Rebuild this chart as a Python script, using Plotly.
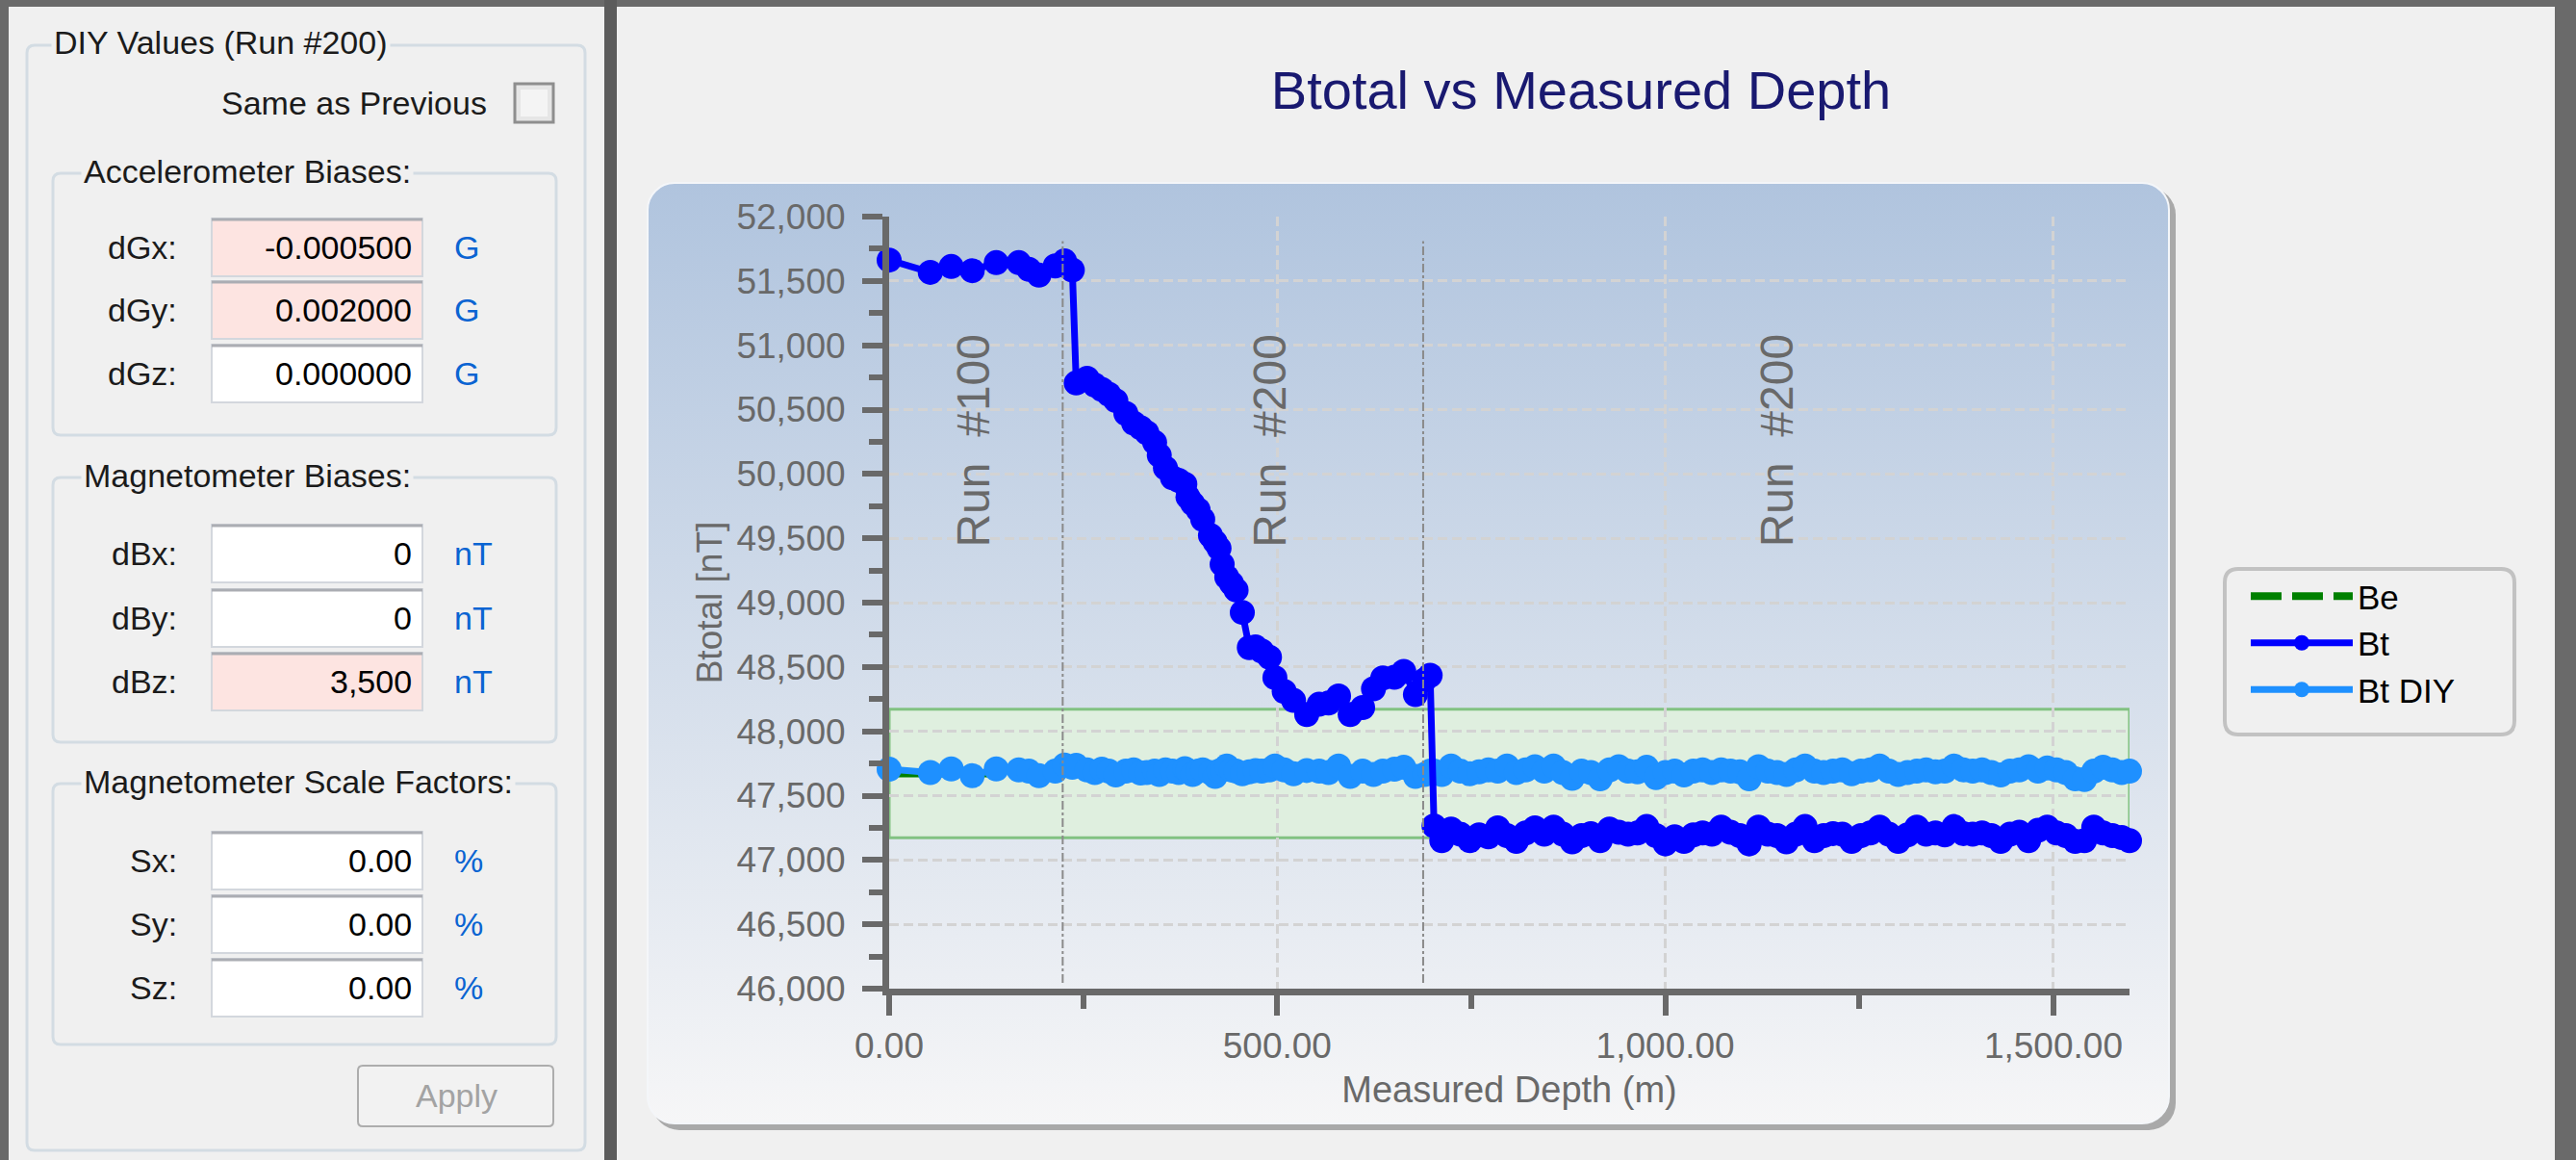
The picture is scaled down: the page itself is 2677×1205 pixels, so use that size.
import base64
import plotly.graph_objects as go

W, H = 2677, 1205

# ---------------- data ----------------
measured_depth = [
    0, 53, 80, 107, 138, 167, 180, 193, 214, 226, 236,
    241, 255, 265, 274, 283, 292, 305, 315, 324, 332,
    342, 348, 356, 365, 373, 381, 385, 391, 398, 404,
    414, 420, 425, 429, 435, 441, 447, 455, 464, 472,
    480, 490, 497, 509, 521, 538, 554, 566, 579, 594,
    610, 624, 636, 651, 663, 678, 690, 697,
    702, 712, 724, 736, 748, 760, 772, 784, 796, 808,
    820, 832, 844, 856, 868, 880, 892, 904, 916, 928,
    940, 952, 964, 976, 988, 1000, 1012, 1024, 1036, 1048,
    1060, 1072, 1084, 1096, 1108, 1120, 1132, 1144, 1156, 1168,
    1180, 1192, 1204, 1216, 1228, 1240, 1252, 1264, 1276, 1288,
    1300, 1312, 1324, 1336, 1348, 1360, 1372, 1384, 1396, 1408,
    1420, 1432, 1444, 1456, 1468, 1480, 1492, 1504, 1516, 1528,
    1540, 1552, 1564, 1576, 1588, 1598,
]

bt = [
    51662, 51567, 51612, 51580, 51642, 51642, 51590, 51545, 51617, 51655, 51585,
    50707, 50744, 50690, 50657, 50620, 50570, 50470, 50395, 50360, 50320,
    50245, 50146, 50046, 49971, 49950, 49921, 49821, 49770, 49722, 49647,
    49522, 49470, 49422, 49298, 49198, 49150, 49098, 48924, 48650, 48655,
    48624, 48575, 48417, 48310, 48240, 48130, 48210, 48220, 48275, 48130,
    48185, 48330, 48415, 48420, 48465, 48285, 48400, 48435,
    47265, 47150, 47240, 47200, 47150, 47195, 47180, 47250, 47190, 47145,
    47210, 47250, 47200, 47255, 47200, 47140, 47190, 47205, 47150, 47240,
    47215, 47200, 47210, 47260, 47190, 47125, 47180, 47145, 47195, 47210,
    47200, 47255, 47215, 47190, 47125, 47255, 47200, 47190, 47140, 47200,
    47260, 47150, 47190, 47205, 47200, 47145, 47190, 47210, 47255, 47200,
    47145, 47195, 47255, 47200, 47210, 47195, 47260, 47205, 47200, 47210,
    47190, 47145, 47200, 47215, 47150, 47230, 47255, 47210, 47190, 47145,
    47150, 47255, 47210, 47190, 47175, 47150,
]

bt_diy = [
    47705, 47680, 47708, 47655, 47708, 47700, 47690, 47655, 47690, 47737, 47720,
    47735, 47700, 47680, 47705, 47690, 47660, 47690, 47700, 47675, 47680,
    47690, 47665, 47700, 47690, 47680, 47710, 47695, 47665, 47690, 47700,
    47680, 47650, 47690, 47700, 47730, 47700, 47690, 47670, 47685, 47695,
    47690, 47700, 47730, 47700, 47670, 47695, 47690, 47680, 47730, 47650,
    47690, 47665, 47690, 47705, 47720, 47650, 47665, 47690,
    47690, 47665, 47730, 47690, 47670, 47685, 47700, 47690, 47730, 47680,
    47700, 47725, 47690, 47730, 47680, 47635, 47690, 47680, 47630, 47700,
    47725, 47690, 47685, 47720, 47640, 47680, 47690, 47660, 47690, 47700,
    47680, 47700, 47690, 47685, 47630, 47725, 47690, 47680, 47665, 47700,
    47730, 47690, 47680, 47690, 47700, 47670, 47690, 47700, 47730, 47690,
    47665, 47680, 47690, 47700, 47685, 47690, 47730, 47700, 47690, 47700,
    47680, 47660, 47690, 47700, 47725, 47690, 47715, 47700, 47680, 47630,
    47625, 47690, 47720, 47700, 47680, 47690,
]

be_value = 47672
be_tolerance = 500
depth_range = [0, 1598]
btotal_range = [46000, 52000]
run_boundaries = [223.6, 688.0]
run_label_text = ["Run\u00a0\u00a0#100", "Run\u00a0\u00a0#200", "Run\u00a0\u00a0#200"]
run_label_depth = [109, 491, 1144]
run_label_btotal = 50260

# left panel content
accel_labels = ["dGx:", "dGy:", "dGz:"]
accel_values = ["-0.000500", "0.002000", "0.000000"]
accel_changed = [True, True, False]
mag_labels = ["dBx:", "dBy:", "dBz:"]
mag_values = ["0", "0", "3,500"]
mag_changed = [False, False, True]
scale_labels = ["Sx:", "Sy:", "Sz:"]
scale_values = ["0.00", "0.00", "0.00"]
scale_changed = [False, False, False]

# ---------------- styling ----------------
F = "Liberation Sans, Arial, sans-serif"
AX = "#696969"
UI = 34

# plot area in pixels
PL, PR, PT, PB = 924, 2213, 225, 1027
PWID, PHGT = PR - PL, PB - PT

shapes = []
annotations = []


def X(v):
    return (v - PL) / PWID


def Y(v):
    return (PB - v) / PHGT


def rect(x0, y0, x1, y1, fill, line=None, lw=0, layer="below"):
    shapes.append(dict(type="rect", xref="paper", yref="paper",
                       x0=X(x0), x1=X(x1), y0=Y(y1), y1=Y(y0),
                       fillcolor=fill, layer=layer,
                       line=dict(color=line or fill, width=lw)))


def hline(x0, x1, y, color, lw):
    shapes.append(dict(type="line", xref="paper", yref="paper",
                       x0=X(x0), x1=X(x1), y0=Y(y), y1=Y(y), layer="below",
                       line=dict(color=color, width=lw)))


def rrect(x0, y0, x1, y1, r, line, lw, fill="rgba(0,0,0,0)"):
    p = (f"M{X(x0+r)},{Y(y0)} L{X(x1-r)},{Y(y0)} Q{X(x1)},{Y(y0)} {X(x1)},{Y(y0+r)} "
         f"L{X(x1)},{Y(y1-r)} Q{X(x1)},{Y(y1)} {X(x1-r)},{Y(y1)} "
         f"L{X(x0+r)},{Y(y1)} Q{X(x0)},{Y(y1)} {X(x0)},{Y(y1-r)} "
         f"L{X(x0)},{Y(y0+r)} Q{X(x0)},{Y(y0)} {X(x0+r)},{Y(y0)} Z")
    shapes.append(dict(type="path", xref="paper", yref="paper", path=p,
                       fillcolor=fill, layer="below",
                       line=dict(color=line, width=lw)))


def txt(x, y, s, size=UI, color="#1B1B1B", xanchor="left", bg=None, family=F):
    a = dict(xref="paper", yref="paper", x=X(x), y=Y(y), text=s, showarrow=False,
             xanchor=xanchor, yanchor="middle",
             font=dict(family=family, size=size, color=color))
    if bg:
        a.update(bgcolor=bg, borderpad=2)
    annotations.append(a)


# window chrome (dark desktop strips)
DARK = "#6A6A6A"
rect(0, 0, W, 7, DARK)
rect(0, 0, 9, H, DARK)
rect(628, 0, 641, H, "#5C5C5C")
rect(2655, 0, W, H, DARK)

# outer group box
rrect(28, 47, 608, 1195, 8, "#D3DCE3", 3)
txt(53, 44, "DIY Values (Run #200)", bg="#F0F0F0")
txt(508, 107, "Same as Previous", xanchor="right")
rect(535, 87, 575, 127, "#E6E6E6", "#8E8E8E", 3)
rect(541, 93, 569, 121, "#F4F4F4")


def group(y0, y1, title, labels, values, changed, unit, centers):
    rrect(55, y0, 578, y1, 8, "#D3DCE3", 3)
    txt(84, y0 - 2, title, bg="#F0F0F0")
    for lab, val, ch, cy in zip(labels, values, changed, centers):
        txt(186, cy, lab, xanchor="right")
        rect(220, cy - 30, 439, cy + 30, "#FDE4E1" if ch else "#FFFFFF", "#D3D7DD", 2)
        hline(220, 439, cy - 29, "#ABADB3", 3)
        txt(430, cy, val, xanchor="right", color="#000000")
        txt(470, cy, unit, color="#0A64D2")


group(180, 452, "Accelerometer Biases:", accel_labels, accel_values, accel_changed, "G", [257, 322, 388])
group(496, 771, "Magnetometer Biases:", mag_labels, mag_values, mag_changed, "nT", [575, 642, 708])
group(814, 1085, "Magnetometer Scale Factors:", scale_labels, scale_values, scale_changed, "%", [894, 960, 1026])

rrect(372, 1107, 575, 1170, 5, "#ADADAD", 2, "#F2F2F2")
txt(474, 1138, "Apply", xanchor="center", color="#A3A3A3")

# legend frame
rrect(2312, 591, 2613, 763, 14, "#C2C2C2", 4, "#F0F0F0")

# chart panel with vertical gradient (SVG image in the background)
pw, ph = 1589, 985
svg = (f"<svg xmlns='http://www.w3.org/2000/svg' width='{pw}' height='{ph}' viewBox='0 0 {pw} {ph}'>"
       "<defs><linearGradient id='g' x1='0' y1='0' x2='0' y2='1'>"
       "<stop offset='0' stop-color='#B0C4DE'/><stop offset='1' stop-color='#F6F6F7'/>"
       "</linearGradient></defs>"
       f"<rect x='6' y='6' width='{pw-6}' height='{ph-6}' rx='28' ry='28' fill='#A9A9A9'/>"
       f"<rect x='1' y='1' width='{pw-8}' height='{ph-8}' rx='28' ry='28' fill='url(#g)' "
       "stroke='#F4F6F9' stroke-width='2'/></svg>")
panel_img = dict(source="data:image/svg+xml;base64," + base64.b64encode(svg.encode()).decode(),
                 xref="paper", yref="paper", x=X(672), y=Y(189), sizex=pw / PWID, sizey=ph / PHGT,
                 xanchor="left", yanchor="top", sizing="stretch", layer="below")

# tolerance band around Be (data coordinates)
shapes.append(dict(type="rect", xref="x", yref="y",
                   x0=depth_range[0], x1=depth_range[1],
                   y0=be_value - be_tolerance, y1=be_value + be_tolerance,
                   fillcolor="#DFEFDF", layer="below",
                   line=dict(color="#82C282", width=3)))

# run boundaries
for b in run_boundaries:
    shapes.append(dict(type="line", xref="x", yref="y", x0=b, x1=b,
                       y0=btotal_range[0] + 45, y1=btotal_range[1] - 190,
                       line=dict(color="#8A8A8A", width=2, dash="dashdot")))

for t, d in zip(run_label_text, run_label_depth):
    annotations.append(dict(xref="x", yref="y", x=d, y=run_label_btotal, text=t,
                            textangle=-90, showarrow=False, xanchor="center", yanchor="middle",
                            font=dict(family=F, size=48, color=AX)))

fig = go.Figure()
fig.add_trace(go.Scatter(
    x=[depth_range[0], depth_range[1]], y=[be_value, be_value], name="Be", mode="lines",
    line=dict(color="#008000", width=8, dash="32px,11px"), legendrank=1))
fig.add_trace(go.Scatter(
    x=measured_depth, y=bt_diy, name="Bt DIY", mode="lines+markers", cliponaxis=False,
    line=dict(color="#1E90FF", width=7), marker=dict(color="#1E90FF", size=26, symbol="circle"),
    legendrank=3))
fig.add_trace(go.Scatter(
    x=measured_depth, y=bt, name="Bt", mode="lines+markers", cliponaxis=False,
    line=dict(color="#0000FF", width=7), marker=dict(color="#0000FF", size=26, symbol="circle"),
    legendrank=2))

axis_common = dict(
    ticks="outside", tickwidth=6, tickcolor=AX, showline=True, linewidth=7, linecolor=AX,
    showgrid=True, gridcolor="#D3D3D3", gridwidth=3, griddash="10px,5px", zeroline=False,
    tickfont=dict(family=F, size=37, color=AX),
)

fig.update_layout(
    width=W, height=H, autosize=False,
    margin=dict(l=PL, r=W - PR, t=PT, b=H - PB, pad=0),
    paper_bgcolor="#F0F0F0", plot_bgcolor="rgba(0,0,0,0)",
    title=dict(text="Btotal vs Measured Depth", x=1643 / W, xanchor="center", xref="container",
               y=1 - 93 / H, yanchor="middle", yref="container",
               font=dict(family=F, size=56, color="#191970")),
    xaxis=dict(range=depth_range, tickmode="linear", tick0=0, dtick=500, tickformat=",.2f",
               ticklen=21, ticklabelstandoff=0,
               minor=dict(tick0=0, dtick=250, ticks="outside", ticklen=14, tickwidth=6,
                          tickcolor=AX, showgrid=False),
               title=dict(text="Measured Depth (m)", standoff=14,
                          font=dict(family=F, size=38, color=AX)),
               **axis_common),
    yaxis=dict(range=btotal_range, tickmode="linear", tick0=46000, dtick=500, tickformat=",d",
               ticklen=21, ticklabelstandoff=10,
               minor=dict(tick0=46000, dtick=250, ticks="outside", ticklen=14, tickwidth=6,
                          tickcolor=AX, showgrid=False),
               title=dict(text="Btotal [nT]", standoff=6,
                          font=dict(family=F, size=37, color=AX)),
               **axis_common),
    legend=dict(x=X(2334), y=Y(590), xanchor="left", yanchor="top",
                bgcolor="rgba(0,0,0,0)", borderwidth=0, itemwidth=106,
                font=dict(family=F, size=35, color="#000000"), tracegroupgap=0),
    shapes=shapes, annotations=annotations, images=[panel_img],
)

fig.write_html("out.html")
